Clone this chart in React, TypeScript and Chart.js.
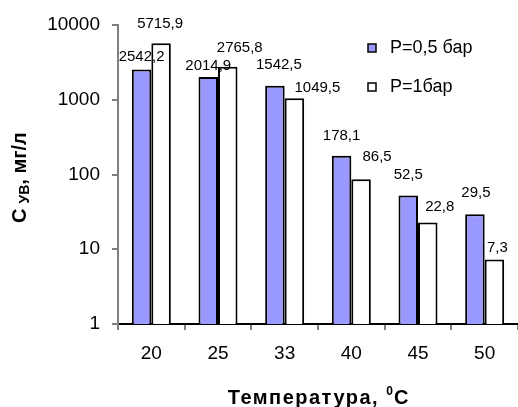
import React, { useEffect, useRef } from "react";
import { Chart, registerables } from "chart.js";

Chart.register(...registerables);

const categories = ["20", "25", "33", "40", "45", "50"];
const seriesLow = [2542.2, 2014.9, 1542.5, 178.1, 52.5, 29.5];
const seriesHigh = [5715.9, 2765.8, 1049.5, 86.5, 22.8, 7.3];
const seriesNames = ["P=0,5 бар", "P=1бар"];
const yTicks = [1, 10, 100, 1000, 10000];

// label nudges [dx, dy] relative to bar top-center (styling only)
const LABEL_NUDGE = [
  [[0, -13], [0, -11], [4, -21], [0, -20], [0, -21], [1, -21]],
  [[-1, -19], [12, -19], [23, -10], [16, -22], [12, -16], [3, -12]],
];

const FONT = '"Liberation Sans", Arial, sans-serif';

const fmt = (v: number) => v.toFixed(1).replace(".", ",");

const overlayPlugin = {
  id: "overlay",
  afterDraw(chart: any) {
    const ctx = chart.ctx as CanvasRenderingContext2D;
    ctx.save();
    // data labels
    ctx.font = `15px ${FONT}`;
    ctx.fillStyle = "#000";
    ctx.textAlign = "center";
    ctx.textBaseline = "middle";
    chart.data.datasets.forEach((ds: any, di: number) => {
      const meta = chart.getDatasetMeta(di);
      meta.data.forEach((bar: any, i: number) => {
        const [dx, dy] = LABEL_NUDGE[di][i];
        ctx.fillText(fmt(ds.data[i]), bar.x + dx, bar.y + dy);
      });
    });

    // legend
    const lx = 368;
    const ly = [48, 87];
    ctx.font = `18px ${FONT}`;
    ctx.textAlign = "left";
    ctx.textBaseline = "middle";
    chart.data.datasets.forEach((ds: any, di: number) => {
      ctx.fillStyle = ds.backgroundColor;
      ctx.fillRect(lx, ly[di] - 4, 8, 8);
      ctx.strokeStyle = "#000";
      ctx.lineWidth = 1.5;
      ctx.strokeRect(lx, ly[di] - 4, 8, 8);
      ctx.fillStyle = "#000";
      ctx.fillText(ds.label, 390, ly[di]);
    });

    // y title
    ctx.save();
    ctx.translate(26, 223);
    ctx.rotate(-Math.PI / 2);
    ctx.textAlign = "left";
    ctx.textBaseline = "alphabetic";
    ctx.font = `bold 20px ${FONT}`;
    ctx.fillText("С", 0, 0);
    let x = ctx.measureText("С").width + 5;
    ctx.font = `bold 14px ${FONT}`;
    ctx.fillText("УВ", x, 3);
    x += ctx.measureText("УВ").width;
    ctx.font = `bold 20px ${FONT}`;
    ctx.fillText(", мг/л", x, 0);
    ctx.restore();

    // x title
    ctx.save();
    ctx.textAlign = "left";
    ctx.textBaseline = "alphabetic";
    (ctx as any).letterSpacing = "1.5px";
    ctx.font = `bold 20px ${FONT}`;
    const p1 = "Температура, ";
    const w1 = ctx.measureText(p1).width;
    ctx.font = `bold 12px ${FONT}`;
    (ctx as any).letterSpacing = "0px";
    const w2 = ctx.measureText("0").width;
    ctx.font = `bold 20px ${FONT}`;
    const w3 = ctx.measureText("С").width;
    const total = w1 + w2 + 1 + w3;
    const cx = (chart.chartArea.left + chart.chartArea.right) / 2;
    let sx = cx - total / 2;
    const by = 404;
    (ctx as any).letterSpacing = "1.5px";
    ctx.fillText(p1, sx, by);
    sx += w1;
    (ctx as any).letterSpacing = "0px";
    ctx.font = `bold 12px ${FONT}`;
    ctx.fillText("0", sx, by - 9);
    sx += w2 + 1;
    ctx.font = `bold 20px ${FONT}`;
    ctx.fillText("С", sx, by);
    ctx.restore();

    ctx.restore();
  },
};

export default function App() {
  const ref = useRef<HTMLCanvasElement>(null);

  useEffect(() => {
    document.body.style.margin = "0";
    const canvas = ref.current!;
    const chart = new Chart(canvas, {
      type: "bar",
      data: {
        labels: categories,
        datasets: [
          {
            label: seriesNames[0],
            data: seriesLow,
            backgroundColor: "#9999FF",
            borderColor: "#000",
            borderWidth: 2,
            borderSkipped: "bottom",
          },
          {
            label: seriesNames[1],
            data: seriesHigh,
            backgroundColor: "#FFFFFF",
            borderColor: "#000",
            borderWidth: 2,
            borderSkipped: "bottom",
          },
        ],
      },
      options: {
        animation: false,
        responsive: false,
        maintainAspectRatio: false,
        layout: { padding: { left: 0, top: 25, right: 0, bottom: 0 } },
        plugins: {
          legend: { display: false },
          tooltip: { enabled: false },
        },
        datasets: {
          bar: { categoryPercentage: 0.585, barPercentage: 1 },
        },
        scales: {
          x: {
            grid: {
              offset: true,
              drawOnChartArea: false,
              tickLength: 6,
              color: "#808080",
              lineWidth: 2,
            },
            border: { color: "#000", width: 2 },
            ticks: {
              font: { size: 19, family: FONT },
              color: "#000",
              padding: 12,
            },
            afterFit(scale: any) {
              scale.height = 83;
            },
          },
          y: {
            type: "logarithmic",
            min: 1,
            max: 10000,
            grid: {
              drawOnChartArea: false,
              tickLength: 6,
              color: "#808080",
              lineWidth: 2,
            },
            border: { color: "#808080", width: 2 },
            afterBuildTicks(scale: any) {
              scale.ticks = yTicks.map((v) => ({ value: v }));
            },
            ticks: {
              font: { size: 19, family: FONT },
              color: "#000",
              padding: 12,
              callback: (v: any) => String(v),
            },
            afterFit(scale: any) {
              scale.width = 118;
            },
          },
        },
      },
      plugins: [overlayPlugin],
    });
    return () => chart.destroy();
  }, []);

  return (
    <div style={{ width: 518, height: 407 }}>
      <canvas ref={ref} width={518} height={407} />
    </div>
  );
}
